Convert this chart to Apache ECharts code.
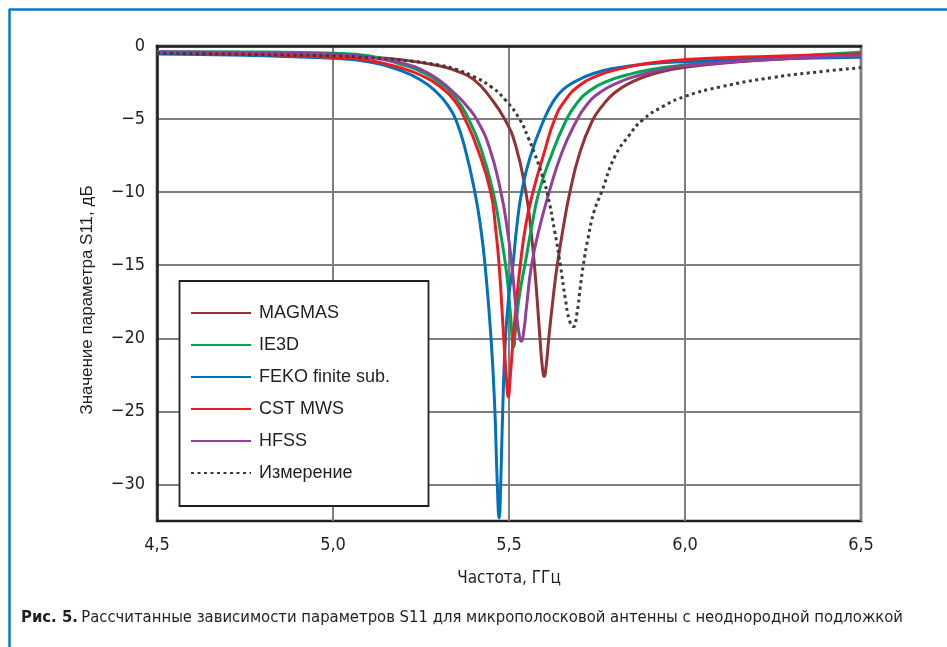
<!DOCTYPE html>
<html>
<head>
<meta charset="utf-8">
<script src="https://cdn.jsdelivr.net/npm/echarts@6/dist/echarts.min.js"></script>
<style>html,body{margin:0;padding:0;background:#fff;}#chart{width:947px;height:647px;}</style>
</head>
<body>
<div id="chart"></div>
<script>
// ---- data ----
const seriesNames = ['MAGMAS', 'IE3D', 'FEKO finite sub.', 'CST MWS', 'HFSS', 'Измерение'];
const xTicks = [4.5, 5.0, 5.5, 6.0, 6.5];
const yTicks = [0, -5, -10, -15, -20, -25, -30];

const magmas = [[4.5,-0.45],[4.75,-0.5],[5.0,-0.6],[5.1,-0.75],[5.2,-0.96],[5.3,-1.35],[5.35,-1.7],[5.40,-2.3],[5.446,-3.5],[5.49,-5.1],[5.52,-6.9],[5.548,-10],[5.562,-12.5],[5.574,-15.5],[5.588,-20],[5.594,-21.8],[5.600,-22.6],[5.606,-21.8],[5.613,-20],[5.625,-17.3],[5.637,-15],[5.655,-12.3],[5.673,-10],[5.70,-7.4],[5.735,-5.2],[5.765,-4.1],[5.80,-3.2],[5.85,-2.45],[5.90,-1.98],[6.0,-1.45],[6.25,-0.92],[6.5,-0.7]];
const ie3d = [[4.5,-0.39],[4.75,-0.41],[5.0,-0.5],[5.1,-0.66],[5.2,-1.3],[5.25,-1.75],[5.30,-2.45],[5.35,-3.6],[5.385,-5.0],[5.42,-7.0],[5.455,-10],[5.476,-12.8],[5.493,-15.5],[5.504,-18.3],[5.513,-20.6],[5.52,-19],[5.53,-17],[5.545,-15],[5.565,-12.3],[5.585,-10],[5.62,-7.5],[5.66,-5.2],[5.69,-4.0],[5.73,-3.05],[5.78,-2.4],[5.84,-1.95],[5.90,-1.62],[6.0,-1.3],[6.25,-0.8],[6.5,-0.43]];
const feko = [[4.5,-0.55],[4.75,-0.64],[5.0,-0.84],[5.1,-1.08],[5.2,-1.75],[5.25,-2.35],[5.30,-3.3],[5.33,-4.2],[5.35,-5.1],[5.375,-7.0],[5.403,-10],[5.42,-12.5],[5.432,-15],[5.449,-20],[5.46,-25],[5.466,-29.5],[5.472,-32.3],[5.477,-29.5],[5.482,-25],[5.49,-20],[5.50,-17],[5.511,-15],[5.522,-12.4],[5.536,-10],[5.56,-7.6],[5.60,-5],[5.628,-3.7],[5.655,-2.95],[5.69,-2.4],[5.74,-1.88],[5.80,-1.52],[5.89,-1.23],[6.0,-1.07],[6.25,-0.88],[6.5,-0.77]];
const cst = [[4.5,-0.45],[4.75,-0.55],[5.0,-0.78],[5.1,-0.98],[5.2,-1.55],[5.25,-2.0],[5.30,-2.7],[5.35,-3.9],[5.375,-5.0],[5.41,-7.0],[5.448,-10],[5.462,-12.5],[5.472,-15],[5.485,-20],[5.492,-22.5],[5.498,-24],[5.504,-22.5],[5.512,-20],[5.522,-17.3],[5.532,-15],[5.548,-12.2],[5.568,-10],[5.60,-7.3],[5.63,-5],[5.66,-3.7],[5.70,-2.7],[5.75,-2.05],[5.80,-1.65],[5.89,-1.2],[6.0,-0.93],[6.25,-0.7],[6.5,-0.55]];
const hfss = [[4.5,-0.39],[4.75,-0.45],[5.0,-0.55],[5.1,-0.75],[5.2,-1.2],[5.25,-1.6],[5.30,-2.3],[5.35,-3.35],[5.38,-4.1],[5.41,-5.1],[5.445,-7.0],[5.477,-10],[5.495,-12.5],[5.508,-15],[5.52,-18],[5.528,-19.6],[5.535,-20.2],[5.542,-19.5],[5.55,-17.8],[5.564,-15],[5.588,-12.3],[5.614,-10],[5.65,-7.3],[5.69,-5.2],[5.72,-4.05],[5.76,-3.15],[5.81,-2.5],[5.87,-2.0],[5.93,-1.65],[6.0,-1.35],[6.25,-0.9],[6.5,-0.66]];
const measured = [[4.5,-0.5],[4.75,-0.57],[5.0,-0.68],[5.1,-0.8],[5.2,-0.98],[5.3,-1.3],[5.35,-1.6],[5.40,-2.1],[5.45,-2.8],[5.49,-3.7],[5.53,-5.0],[5.555,-6.3],[5.575,-7.5],[5.595,-8.9],[5.61,-10.2],[5.63,-12.7],[5.646,-15],[5.66,-17.3],[5.672,-18.8],[5.683,-19.2],[5.693,-18.3],[5.702,-16.6],[5.711,-15],[5.725,-13.1],[5.742,-11.3],[5.763,-10],[5.80,-7.6],[5.84,-6.15],[5.88,-5.05],[5.94,-4.1],[6.0,-3.45],[6.1,-2.8],[6.25,-2.15],[6.4,-1.72],[6.5,-1.48]];

const seriesData = [magmas, ie3d, feko, cst, hfss, measured];
const seriesColors = ['#923237', '#00a551', '#0071bc', '#ed1c24', '#93409a', '#3a3a3a'];

const narrow = "'Liberation Sans Narrow', 'DejaVu Sans Condensed', 'Roboto Condensed', sans-serif";
const chart = echarts.init(document.getElementById('chart'), null, {renderer: 'canvas'});

const series = seriesNames.map((name, i) => ({
  name: name,
  type: 'line',
  data: seriesData[i],
  symbol: 'none',
  showSymbol: false,
  smooth: 0.5,
  color: seriesColors[i],
  lineStyle: i === 5
    ? {width: 3, color: seriesColors[i], type: [3, 3.5], cap: 'butt'}
    : {width: 3, color: seriesColors[i]},
  z: 3,
  animation: false
}));

chart.setOption({
  animation: false,
  backgroundColor: '#ffffff',
  grid: {left: 157, right: 86, top: 46, bottom: 126, show: true, borderColor: '#231f20', borderWidth: 2.5, containLabel: false},
  xAxis: {
    type: 'value', min: 4.5, max: 6.5, interval: 0.5,
    axisLine: {show: true, lineStyle: {color: '#231f20', width: 2.5}},
    axisTick: {show: false},
    splitLine: {show: true, lineStyle: {color: '#7f7f7f', width: 2}},
    axisLabel: {
      margin: 15, fontSize: 18, color: '#231f20', fontFamily: narrow,
      formatter: v => v.toFixed(1).replace('.', ',')
    },
    name: 'Частота, ГГц', nameLocation: 'middle', nameGap: 49,
    nameTextStyle: {fontSize: 17, color: '#231f20', fontFamily: narrow}
  },
  yAxis: {
    type: 'value', min: -32.5, max: 0,
    axisLine: {show: true, lineStyle: {color: '#231f20', width: 2.5}},
    axisTick: {show: false, customValues: yTicks},
    splitLine: {show: true, lineStyle: {color: '#7f7f7f', width: 2}},
    axisLabel: {
      customValues: yTicks,
      margin: 12, fontSize: 18, color: '#231f20', fontFamily: narrow,
      formatter: v => v === 0 ? '0' : '\u2212' + Math.abs(v)
    }
  },
  legend: {
    show: true, orient: 'vertical', left: 190, top: 304, z: 10,
    itemWidth: 60, itemHeight: 14, itemGap: 14, padding: 0,
    itemStyle: {opacity: 0},
    data: seriesNames,
    textStyle: {fontSize: 18, lineHeight: 18, color: '#231f20', fontFamily: "'Liberation Sans', Arial, sans-serif", padding: [0, 0, 0, 3]}
  },
  graphic: [
    {type: 'rect', z: 5, shape: {x: 179.5, y: 281, width: 249, height: 225}, style: {fill: '#ffffff', stroke: '#231f20', lineWidth: 1.8}},
    {type: 'line', z: 20, shape: {x1: 9, y1: 9.5, x2: 947, y2: 9.5}, style: {stroke: '#0a79c6', lineWidth: 2.5}},
    {type: 'line', z: 20, shape: {x1: 9.5, y1: 9, x2: 9.5, y2: 647}, style: {stroke: '#0a79c6', lineWidth: 2.5}},
    {type: 'text', z: 20, x: 87, y: 300, rotation: Math.PI / 2, style: {
      text: 'Значение параметра S11, дБ', fontSize: 17, fill: '#231f20',
      fontFamily: "'Liberation Sans', Arial, sans-serif", align: 'center', verticalAlign: 'middle'
    }},
    {type: 'text', z: 20, left: 21, top: 609, style: {
      text: '{b|Рис. 5.} {r|Рассчитанные зависимости параметров S11 для микрополосковой антенны с неоднородной подложкой}',
      rich: {
        b: {fontSize: 16.5, fontWeight: 'bold', fontFamily: narrow, fill: '#231f20'},
        r: {fontSize: 16.5, fontFamily: narrow, fill: '#231f20'}
      }
    }}
  ],
  series: series
});
</script>
</body>
</html>
